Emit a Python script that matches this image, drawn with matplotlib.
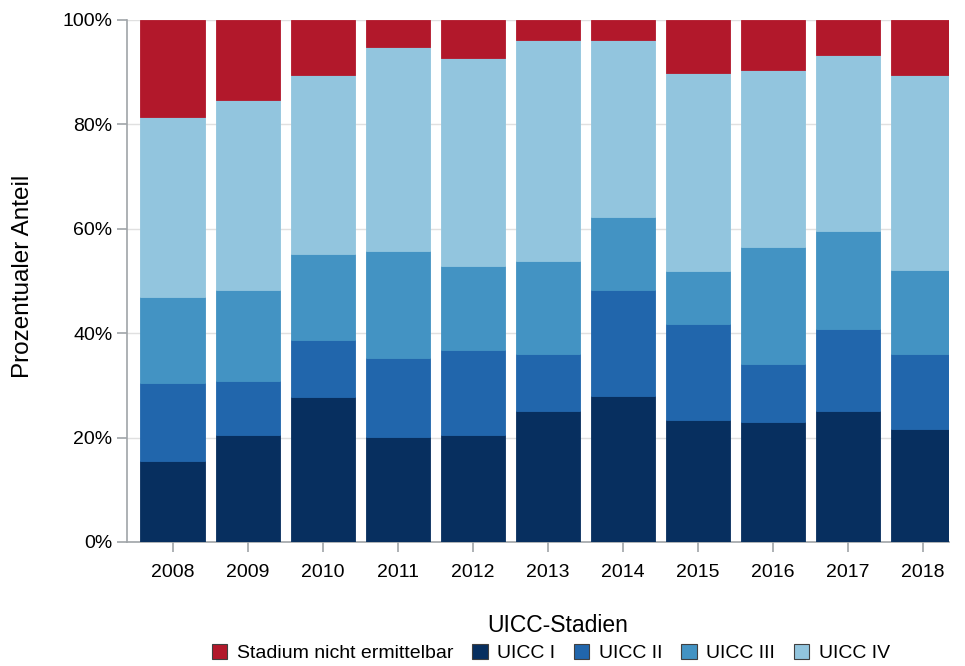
import matplotlib
matplotlib.use("Agg")
import matplotlib.pyplot as plt
from matplotlib.patches import Patch
import numpy as np

plt.rcParams['font.family'] = ['Liberation Sans', 'DejaVu Sans']

years = ["2008", "2009", "2010", "2011", "2012", "2013", "2014", "2015", "2016", "2017", "2018"]
uicc_i   = [15.6, 20.5, 27.7, 20.1, 20.5, 25.0, 28.0, 23.3, 22.9, 25.0, 21.7]
uicc_ii  = [14.9, 10.4, 10.9, 15.1, 16.2, 11.0, 20.2, 18.4, 11.2, 15.8, 14.3]
uicc_iii = [16.5, 17.4, 16.6, 20.5, 16.2, 17.8, 14.1, 10.3, 22.5, 18.8, 16.2]
uicc_iv  = [34.5, 36.4, 34.2, 39.2, 39.9, 42.4, 33.9, 37.9, 33.8, 33.6, 37.2]
unknown  = [18.5, 15.3, 10.6, 5.1, 7.2, 3.8, 3.8, 10.1, 9.6, 6.8, 10.6]

series = [
    ("UICC I", uicc_i, "#072f5f"),
    ("UICC II", uicc_ii, "#2166ac"),
    ("UICC III", uicc_iii, "#4393c3"),
    ("UICC IV", uicc_iv, "#92c5de"),
    ("Stadium nicht ermittelbar", unknown, "#b2182b"),
]

fig = plt.figure(figsize=(9.65, 6.66), dpi=100)
ax = fig.add_axes([0.1316, 0.1862, 0.852, 0.7838])

x = np.arange(len(years))
bottom = np.zeros(len(years))
for name, vals, col in series:
    v = np.array(vals)
    ax.bar(x, v, bottom=bottom, width=0.86, color=col, edgecolor=col, linewidth=0.6, zorder=3)
    bottom += v

ax.set_xlim(-0.61, 10.35)
ax.set_ylim(0, 100)
ax.set_yticks([0, 20, 40, 60, 80, 100])
ax.set_yticklabels(["0%", "20%", "40%", "60%", "80%", "100%"], fontsize=14)
ax.set_xticks(x)
ax.set_xticklabels(years, fontsize=14)
ax.yaxis.grid(True, color="#e0e0e0", linewidth=1, zorder=0)
ax.set_axisbelow(True)
for s in ["top", "right"]:
    ax.spines[s].set_visible(False)
for s in ["left", "bottom"]:
    ax.spines[s].set_color("#a0a4a8")
    ax.spines[s].set_linewidth(1.2)
ax.tick_params(axis="both", colors="#a0a4a8", length=7, width=1.2, labelcolor="black")
ax.tick_params(axis="x", pad=9)
ax.tick_params(axis="y", pad=3.5)

ax.set_ylabel("Prozentualer Anteil", fontsize=17.5)
ax.yaxis.set_label_coords(-0.113, 0.508)

fig.text(0.578, 0.061, "UICC-Stadien", ha="center", va="center", fontsize=16.5)

handles = [Patch(facecolor=c, edgecolor="#404040", linewidth=0.8) for _, _, c in
           [series[4], series[0], series[1], series[2], series[3]]]
labels = ["Stadium nicht ermittelbar", "UICC I", "UICC II", "UICC III", "UICC IV"]
fig.legend(handles, labels, loc="center", bbox_to_anchor=(0.571, 0.019), ncol=5,
           frameon=False, fontsize=14, handlelength=0.8, handleheight=0.8,
           handletextpad=0.5, columnspacing=0.95, borderpad=0)

fig.savefig("out.png", dpi=100)
